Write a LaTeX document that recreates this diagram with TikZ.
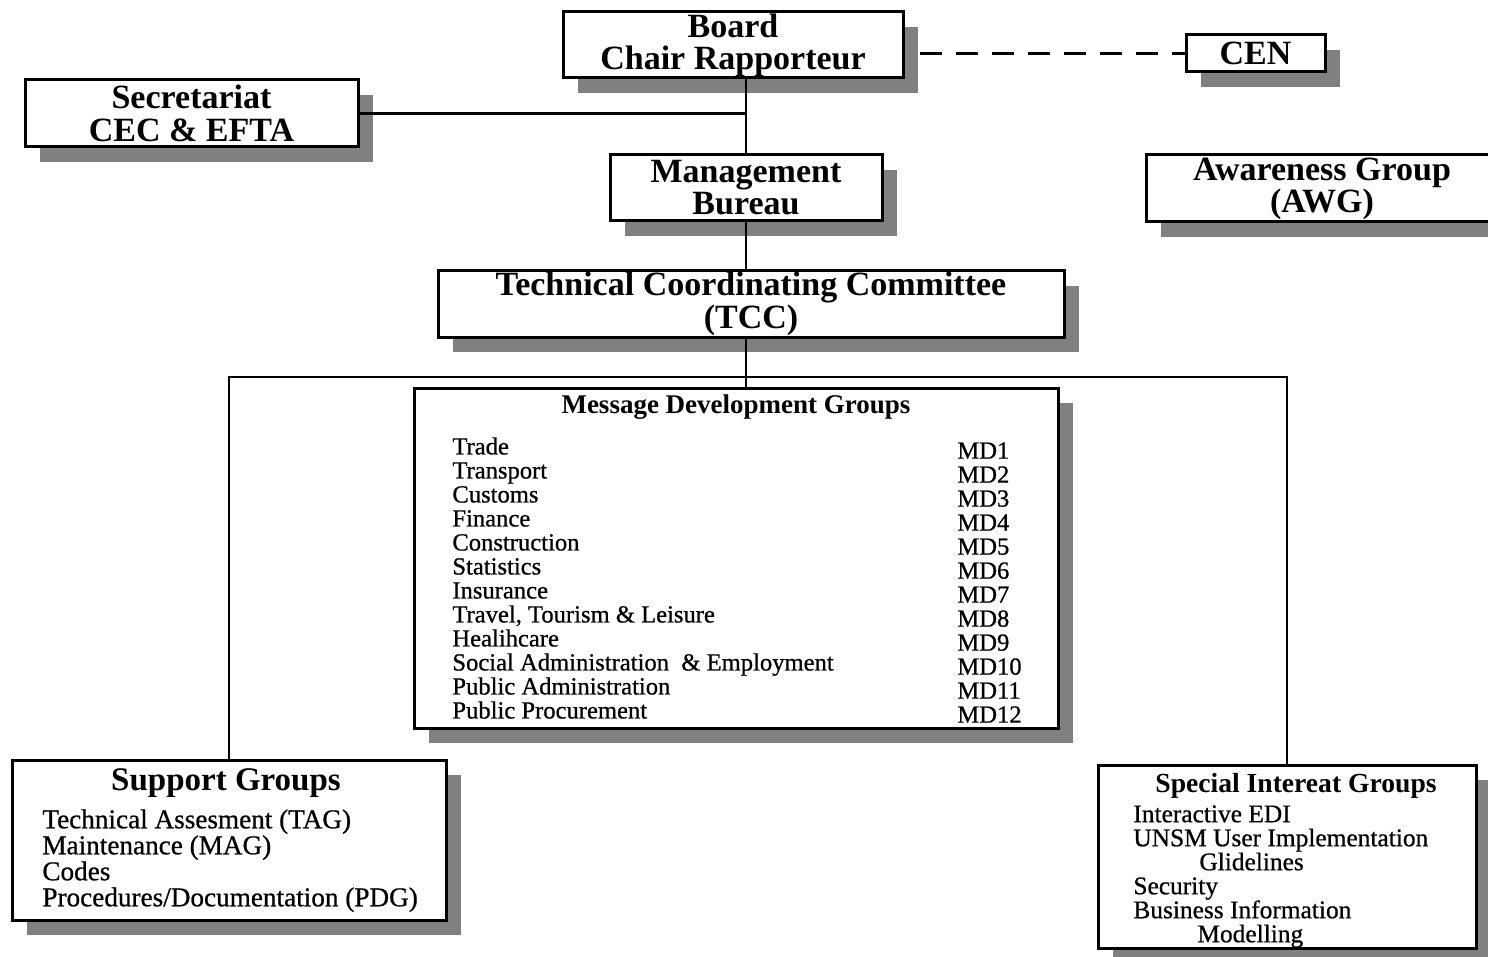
\documentclass[tikz,border=0pt]{standalone}
\usepackage{fontspec}
\setmainfont{Liberation Serif}
\newfontfamily\heavyserif[FakeBold=0.7]{Liberation Serif}
\usetikzlibrary{shadows, positioning, calc}

\begin{document}
\begin{tikzpicture}[x=0.5pt, y=-0.5pt,
    box/.style={draw, line width=1.5pt, fill=white, inner sep=0pt, align=center,
      general shadow={fill=black!50, shadow xshift=7.5pt, shadow yshift=-7.5pt},
      font=\fontsize{17}{16}\selectfont\bfseries},
    link/.style={line width=1.1pt},
    items/.style={inner sep=0pt, align=left}]
\useasboundingbox (0,0) rectangle (1488,957);
\clip (0,0) rectangle (1488,957);
\node[box, minimum width=170pt, minimum height=33pt] (board) at (733,45) {Board\\Chair Rapporteur};
\node[box, minimum width=69.5pt, minimum height=18.5pt] (cen) at (1255.5,53.5) {CEN};
\node[box, minimum width=166.5pt, minimum height=33.5pt, font=\fontsize{17}{16.5}\selectfont\bfseries] (secr) at (191.5,113.5) {Secretariat\\CEC \& EFTA};
\node[box, minimum width=136pt, minimum height=33pt] (mgmt) at (746,188) {Management\\Bureau};
\node[box, minimum width=176pt, minimum height=33.5pt] (awg) at (1322,188.5) {Awareness Group\\(AWG)};
\node[box, minimum width=313pt, minimum height=33pt, font=\fontsize{17}{15}\selectfont\bfseries] (tcc) at (751,304) {Technical Coordinating Committee\\(TCC)};
\node[box, minimum width=322pt, minimum height=170pt] (mdg) at (736,558) {};
\node[box, minimum width=217pt, minimum height=80pt] (sup) at (229,840) {};
\node[box, minimum width=189pt, minimum height=91.5pt] (sig) at (1287,856.5) {};

\node[font=\fontsize{13.5}{14}\selectfont\bfseries, inner sep=0pt] (mdgtitle) at (736,407) {Message Development Groups};
\node[items, anchor=north west, font=\fontsize{12.3}{12}\heavyserif] (mdnames) at (452,437)
  {Trade\\Transport\\Customs\\Finance\\Construction\\Statistics\\Insurance\\Travel, Tourism \& Leisure\\Healihcare\\Social Administration~ \& Employment\\Public Administration\\Public Procurement};
\node[items, anchor=north west, font=\fontsize{12.3}{12}\heavyserif] (mdcodes) at (957,442)
  {MD1\\MD2\\MD3\\MD4\\MD5\\MD6\\MD7\\MD8\\MD9\\MD10\\MD11\\MD12};

\node[font=\fontsize{16.5}{17}\selectfont\bfseries, inner sep=0pt] (suptitle) at (226,783) {Support Groups};
\node[items, anchor=north west, font=\fontsize{13.6}{13}\heavyserif] (supitems) at (42,809)
  {Technical Assesment (TAG)\\Maintenance (MAG)\\Codes\\Procedures/Documentation (PDG)};

\node[font=\fontsize{13.8}{14}\selectfont\bfseries, inner sep=0pt] (sigtitle) at (1296,786) {Special Intereat Groups};
\node[items, anchor=north west, font=\fontsize{12.7}{12}\heavyserif] (sigitems) at (1133,805)
  {Interactive EDI\\UNSM User Implementation\\\hspace*{33pt}Glidelines\\Security\\Business Information\\\hspace*{32pt}Modelling};

\coordinate (bus) at (746,377);
\draw[link] (mgmt.north |- board.south) -- (mgmt.north);
\draw[link] (secr.east) -- (secr.east -| mgmt.north);
\draw[link, line width=1.6pt, dash pattern=on 11pt off 7pt] ([xshift=7.5pt]board.east |- cen.west) -- (cen.west);
\draw[link] (mgmt.south) -- (mgmt.south |- tcc.north);
\draw[link] (mgmt.south |- tcc.south) -- (mgmt.south |- mdg.north);
\draw[link] (sup.north) |- (bus) -| (sig.north);
\end{tikzpicture}
\end{document}
